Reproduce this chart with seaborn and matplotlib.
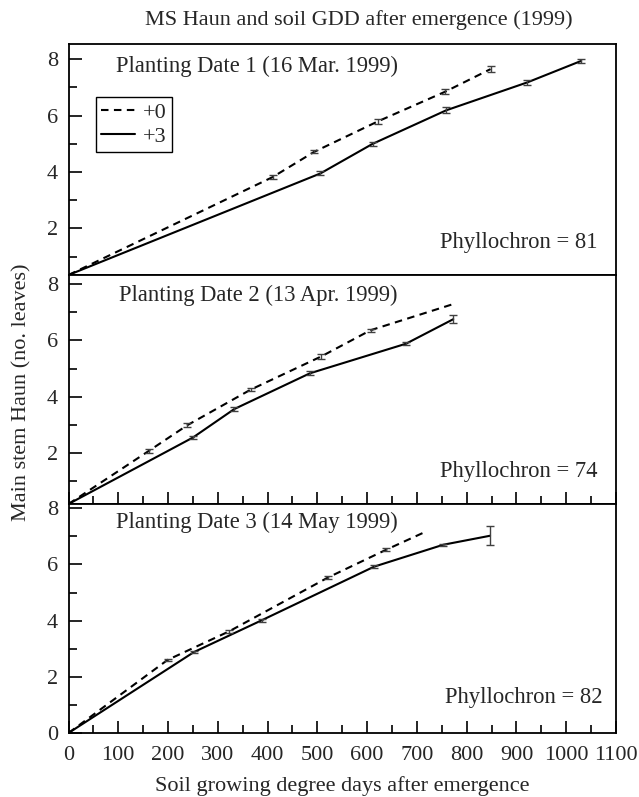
import matplotlib
matplotlib.use("Agg")
import matplotlib.pyplot as plt
import seaborn as sns
import pandas as pd
from matplotlib.ticker import MultipleLocator

# ---------------- data ----------------
TREATMENTS = ["+0", "+3"]
PANEL_TITLES = ["Planting Date 1 (16 Mar. 1999)",
                "Planting Date 2 (13 Apr. 1999)",
                "Planting Date 3 (14 May 1999)"]
PHYLLOCHRON = [81, 74, 82]

# Planting date 1
P1_X0 = [0, 410, 494, 622, 757, 848]
P1_Y0 = [0.35, 3.82, 4.72, 5.80, 6.85, 7.65]
P1_E0 = [0, 0.06, 0.06, 0.08, 0.08, 0.10]
P1_X3 = [0, 506, 611, 759, 922, 1030]
P1_Y3 = [0.35, 3.95, 5.00, 6.19, 7.18, 7.94]
P1_E3 = [0, 0.07, 0.08, 0.10, 0.08, 0.06]

# Planting date 2
P2_X0 = [0, 161, 239, 366, 508, 607, 777]
P2_Y0 = [0.19, 2.07, 2.99, 4.25, 5.43, 6.36, 7.31]
P2_E0 = [0, 0.06, 0.08, 0.06, 0.08, 0.06, 0]
P2_X3 = [0, 250, 333, 485, 678, 773]
P2_Y3 = [0.19, 2.55, 3.56, 4.83, 5.88, 6.75]
P2_E3 = [0, 0.05, 0.07, 0.07, 0.06, 0.14]

# Planting date 3
P3_X0 = [0, 199, 323, 522, 638, 717]
P3_Y0 = [0, 2.60, 3.62, 5.54, 6.52, 7.16]
P3_E0 = [0, 0.05, 0.05, 0.06, 0.06, 0]
P3_X3 = [0, 252, 388, 614, 753, 847]
P3_Y3 = [0, 2.88, 4.01, 5.92, 6.70, 7.02]
P3_E3 = [0, 0.05, 0.05, 0.05, 0.04, 0.33]

YLIMS = [(0.35, 8.54), (0.19, 8.32), (0.0, 8.15)]

PANELS = [
    ((P1_X0, P1_Y0, P1_E0), (P1_X3, P1_Y3, P1_E3)),
    ((P2_X0, P2_Y0, P2_E0), (P2_X3, P2_Y3, P2_E3)),
    ((P3_X0, P3_Y0, P3_E0), (P3_X3, P3_Y3, P3_E3)),
]

# ---------------- styling ----------------
sns.set_theme(style="ticks")
plt.rcParams["font.family"] = ["Liberation Serif", "DejaVu Serif"]
plt.rcParams["axes.linewidth"] = 1.3
plt.rcParams["axes.edgecolor"] = "black"

FS = 16
W, H = 639, 797
fig = plt.figure(figsize=(W / 100, H / 100), dpi=100)

left = 68.5 / W
width = (616 - 68.5) / W
# pixel top/bottom of each panel
PANEL_PX = [(44, 275), (275, 504), (504, 733)]

text_pos = [
    ((0.086, 0.901), (0.966, 0.139)),
    ((0.092, 0.913), (0.966, 0.144)),
    ((0.086, 0.921), (0.976, 0.153)),
]

for i, ((s0, s3), (top_px, bot_px)) in enumerate(zip(PANELS, PANEL_PX)):
    ax = fig.add_axes([left, 1 - bot_px / H, width, (bot_px - top_px) / H])
    frames = []
    for trt, (xs, ys, es) in zip(TREATMENTS, (s0, s3)):
        frames.append(pd.DataFrame({"gdd": xs, "haun": ys, "err": es, "trt": trt}))
    df = pd.concat(frames, ignore_index=True)

    sns.lineplot(data=df, x="gdd", y="haun", style="trt", style_order=TREATMENTS,
                 dashes={"+0": (3.6, 2.6), "+3": ""}, color="black", linewidth=1.5,
                 estimator=None, sort=False, ax=ax, legend=(i == 0))

    eb = df[df["err"] > 0]
    ax.errorbar(eb["gdd"], eb["haun"], yerr=eb["err"], fmt="none",
                ecolor="0.25", elinewidth=1.0, capsize=3, capthick=1.0)

    ax.set_xlim(0, 1100)
    ax.set_ylim(*YLIMS[i])
    ax.xaxis.set_major_locator(MultipleLocator(100))
    ax.xaxis.set_minor_locator(MultipleLocator(50))
    ax.yaxis.set_major_locator(MultipleLocator(2))
    ax.yaxis.set_minor_locator(MultipleLocator(1))
    ax.tick_params(which="major", direction="in", length=9, width=1.2,
                   labelsize=FS, color="black")
    ax.tick_params(which="minor", direction="in", length=5.5, width=1.2, color="black")
    ax.tick_params(axis="y", pad=7.5)
    ax.tick_params(axis="x", pad=9)
    for sp in ax.spines.values():
        sp.set_visible(True)
        sp.set_linewidth(1.3)
        sp.set_color("black")
    ax.set_xlabel("")
    ax.set_ylabel("")
    if i == 0:
        ax.tick_params(axis="x", which="both", bottom=False, labelbottom=False)
        handles, labels = ax.get_legend_handles_labels()
        keep = [(h, l) for h, l in zip(handles, labels) if l in TREATMENTS]
        leg = ax.legend([k[0] for k in keep], [k[1] for k in keep],
                        loc="upper left", bbox_to_anchor=(0.05, 0.771),
                        borderaxespad=0, frameon=True, fancybox=False,
                        edgecolor="black", fontsize=FS, handlelength=1.5,
                        handletextpad=0.35, borderpad=0.25, labelspacing=0.15)
        leg.get_frame().set_linewidth(1.0)
        leg.get_frame().set_alpha(1)
    elif i == 1:
        ax.tick_params(axis="x", which="both", labelbottom=False)

    (tx, ty), (px, py) = text_pos[i]
    ax.text(tx, ty, PANEL_TITLES[i], transform=ax.transAxes, ha="left",
            va="center", fontsize=FS + 0.3)
    ax.text(px, py, f"Phyllochron = {PHYLLOCHRON[i]}", transform=ax.transAxes,
            ha="right", va="center", fontsize=FS + 0.3)

fig.text(359 / W, 1 - 20 / H, "MS Haun and soil GDD after emergence (1999)",
         ha="center", va="center", fontsize=FS)
fig.text(22 / W, 1 - 392 / H, "Main stem Haun (no. leaves)", rotation=90,
         ha="center", va="center", fontsize=FS)
fig.text(342 / W, 1 - 786 / H, "Soil growing degree days after emergence",
         ha="center", va="center", fontsize=FS)

fig.savefig("out.png", dpi=100)
